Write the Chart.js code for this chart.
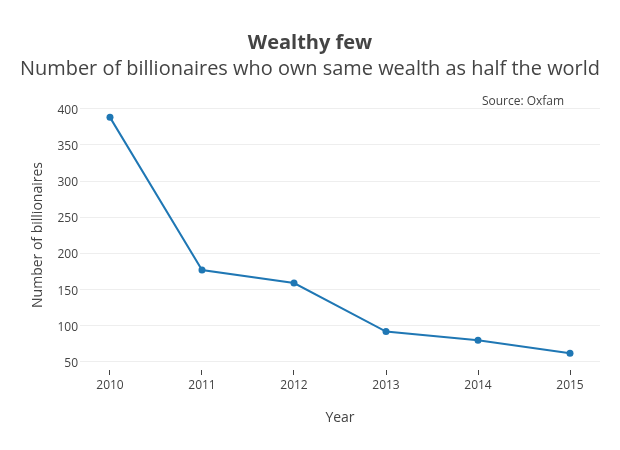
<!DOCTYPE html>
<html>
<head>
<meta charset="utf-8">
<script src="https://cdn.jsdelivr.net/npm/chart.js@4/dist/chart.umd.min.js"></script>
<style>
  html, body { margin: 0; padding: 0; background: #fff; }
  #wrap { width: 620px; height: 450px; }
</style>
</head>
<body>
<div id="wrap"><canvas id="c" width="620" height="450"></canvas></div>
<script>
const years = [2010, 2011, 2012, 2013, 2014, 2015];
const billionaires = [388, 177, 159, 92, 80, 62];
const yTickValues = [50, 100, 150, 200, 250, 300, 350, 400];
const xTickValues = [2010, 2011, 2012, 2013, 2014, 2015];
const titleText = 'Wealthy few';
const subtitleText = 'Number of billionaires who own same wealth as half the world';
const sourceText = 'Source: Oxfam';

const FONT = "'Open Sans', 'Noto Sans', sans-serif";
const TXT = '#444';

const sourcePlugin = {
  id: 'sourceNote',
  afterDraw(chart) {
    const ctx = chart.ctx;
    const a = chart.chartArea;
    ctx.save();
    ctx.font = '12px ' + FONT;
    ctx.fillStyle = TXT;
    ctx.textAlign = 'center';
    ctx.textBaseline = 'middle';
    ctx.fillText(sourceText, a.right - 77, a.top + 1.5);
    ctx.restore();
  }
};

new Chart(document.getElementById('c'), {
  type: 'line',
  data: {
    datasets: [{
      data: years.map((y, i) => ({ x: y, y: billionaires[i] })),
      borderColor: '#1f77b4',
      backgroundColor: '#1f77b4',
      borderWidth: 2,
      pointRadius: 3.5,
      pointHoverRadius: 3.5,
      pointBorderWidth: 0,
      tension: 0,
      fill: false
    }]
  },
  options: {
    responsive: false,
    animation: false,
    events: [],
    layout: { padding: { top: 31, right: 20, bottom: 0, left: 20 } },
    plugins: {
      legend: { display: false },
      tooltip: { enabled: false },
      title: {
        display: true,
        text: titleText,
        color: TXT,
        font: { family: FONT, size: 20, weight: 'bold' },
        padding: { top: 0, bottom: 2 }
      },
      subtitle: {
        display: true,
        text: subtitleText,
        color: TXT,
        font: { family: FONT, size: 20, weight: 'normal' },
        padding: { top: 0, bottom: 19 }
      }
    },
    scales: {
      x: {
        type: 'linear',
        min: 2009.674,
        max: 2015.326,
        afterFit(s) { s.height = 80; },
        afterBuildTicks(s) { s.ticks = xTickValues.map(v => ({ value: v })); },
        border: { display: false },
        grid: { drawOnChartArea: false, drawTicks: true, tickLength: 5, color: TXT, tickColor: TXT, lineWidth: 1 },
        ticks: {
          color: TXT,
          font: { family: FONT, size: 12 },
          padding: 3,
          maxRotation: 0,
          callback: v => String(v)
        },
        title: {
          display: true,
          text: 'Year',
          color: TXT,
          font: { family: FONT, size: 14 },
          padding: { top: 0, bottom: 23.6 }
        }
      },
      y: {
        type: 'linear',
        min: 38.9,
        max: 412,
        afterFit(s) { s.width = 60; },
        afterBuildTicks(s) { s.ticks = yTickValues.map(v => ({ value: v })); },
        border: { display: false },
        grid: { color: '#eee', lineWidth: 1, drawTicks: false },
        ticks: {
          color: TXT,
          font: { family: FONT, size: 12 },
          padding: 2,
          labelOffset: 1.5,
          callback: v => String(v)
        },
        title: {
          display: true,
          text: 'Number of billionaires',
          color: TXT,
          font: { family: FONT, size: 14 },
          padding: { top: 9.6, bottom: 0 }
        }
      }
    }
  },
  plugins: [sourcePlugin]
});
</script>
</body>
</html>
